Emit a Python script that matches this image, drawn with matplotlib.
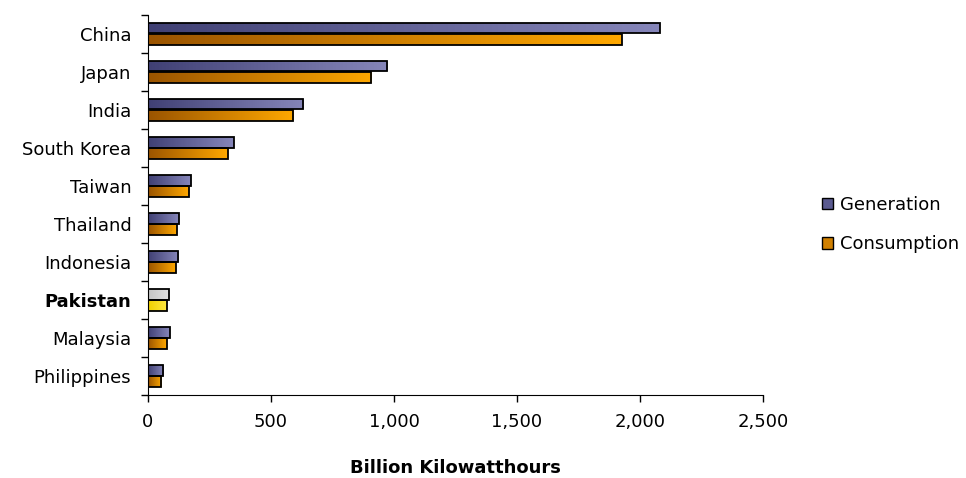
import matplotlib.pyplot as plt
import numpy as np
from matplotlib.colors import LinearSegmentedColormap
from matplotlib.patches import Patch

countries = ["China", "Japan", "India", "South Korea", "Taiwan", "Thailand",
             "Indonesia", "Pakistan", "Malaysia", "Philippines"]
generation = [2081, 973, 631, 349, 174, 126, 122, 85, 88, 61]
consumption = [1925, 908, 590, 324, 166, 117, 113, 77, 77, 53]
highlight = "Pakistan"

plt.rcParams['font.family'] = ['DejaVu Sans']
fs = 13

gen_cmap = LinearSegmentedColormap.from_list("gen", ["#404074", "#8686ba"])
con_cmap = LinearSegmentedColormap.from_list("con", ["#9a5400", "#ffa800"])
gen_hl = LinearSegmentedColormap.from_list("genhl", ["#c4c4c4", "#e0e0e0"])
con_hl = LinearSegmentedColormap.from_list("conhl", ["#f0d000", "#ffe840"])

fig = plt.figure(figsize=(9.66, 4.78), dpi=100)
ax = fig.add_axes([0.1532, 0.1736, 0.6366, 0.7954])

y = np.arange(len(countries))
h = 0.28
grad = np.linspace(0, 1, 256).reshape(1, -1)


def gradient_bars(ys, vals, cmaps):
    bars = ax.barh(ys, vals, height=h, facecolor="none", edgecolor="black",
                   linewidth=1.3, zorder=3)
    for bar, cm in zip(bars, cmaps):
        x0, y0 = bar.get_x(), bar.get_y()
        im = ax.imshow(grad, cmap=cm, aspect="auto", zorder=2,
                       extent=[x0, x0 + bar.get_width(), y0 + bar.get_height(), y0])
        im.set_clip_path(bar)
    return bars


gcm = [gen_hl if c == highlight else gen_cmap for c in countries]
ccm = [con_hl if c == highlight else con_cmap for c in countries]
gradient_bars(y - h / 2 - 0.01, generation, gcm)
gradient_bars(y + h / 2 + 0.01, consumption, ccm)

ax.set_xlim(0, 2500)
ax.set_ylim(len(countries) - 0.5, -0.5)
ax.set_xticks(range(0, 2501, 500))
ax.set_xticklabels(["0", "500", "1,000", "1,500", "2,000", "2,500"], fontsize=fs)
ax.set_yticks(np.arange(-0.5, len(countries), 1))
ax.set_yticklabels([])
ax.set_yticks(y, minor=True)
ax.set_yticklabels(countries, minor=True, fontsize=fs)
for lab in ax.get_yticklabels(minor=True):
    if lab.get_text() == highlight:
        lab.set_fontweight("bold")
ax.tick_params(axis="y", which="minor", length=0, pad=12)
ax.tick_params(axis="y", which="major", length=5, width=1)
ax.tick_params(axis="x", length=5, width=1, pad=8)
ax.spines["top"].set_visible(False)
ax.spines["right"].set_visible(False)
ax.set_xlabel("Billion Kilowatthours", fontsize=13, fontweight="bold", labelpad=20)

handles = [Patch(facecolor="#5a5a90", edgecolor="black", label="Generation"),
           Patch(facecolor="#d08000", edgecolor="black", label="Consumption")]
fig.legend(handles=handles, loc="center left", bbox_to_anchor=(0.842, 0.53),
           frameon=False, fontsize=fs, handlelength=0.6, handleheight=0.6,
           handletextpad=0.35, labelspacing=1.2, borderpad=0)

fig.savefig("out.png", dpi=100)
